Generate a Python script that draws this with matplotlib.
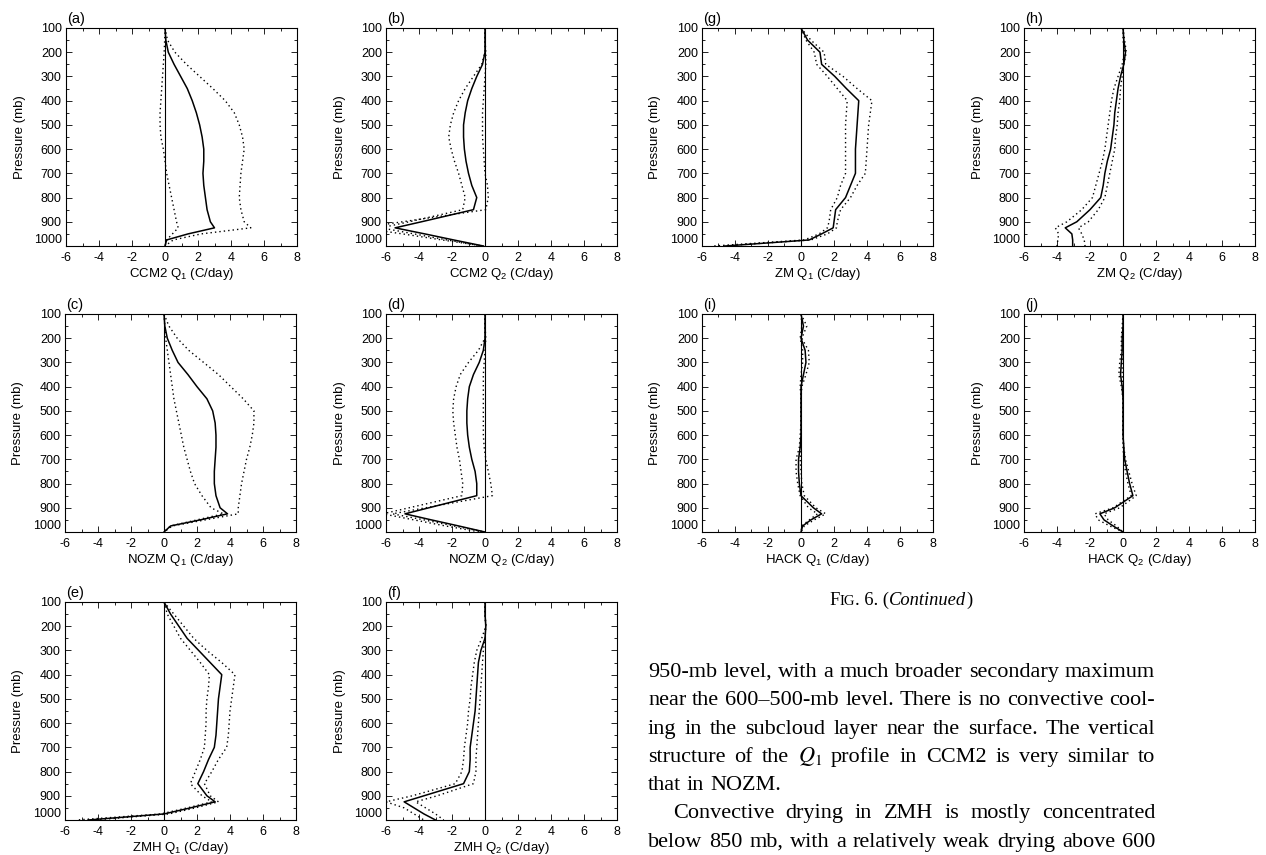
import matplotlib
matplotlib.use('Agg')
import matplotlib.pyplot as plt
from matplotlib.ticker import MultipleLocator

plt.rcParams['font.family'] = ['Liberation Sans', 'DejaVu Sans']
plt.rcParams['mathtext.fontset'] = 'custom'
plt.rcParams['mathtext.rm'] = 'Liberation Sans'
plt.rcParams['mathtext.it'] = 'Liberation Sans:italic'
plt.rcParams['mathtext.bf'] = 'Liberation Sans:bold'
plt.rcParams['axes.unicode_minus'] = False

# pressure levels (mb)
pres = [100, 150, 200, 250, 300, 350, 400, 450, 500, 550, 600, 650, 700,
        750, 800, 850, 900, 925, 950, 975, 1000]

# mean profile (solid) and the two dotted profiles, C/day
ccm2_q1 = [0, 0.05, 0.2, 0.55, 0.95, 1.35, 1.65, 1.9, 2.1, 2.25, 2.35, 2.35, 2.3, 2.35, 2.45, 2.55, 2.75, 3.0, 1.4, 0.1, 0]
ccm2_q1_hi = [0, 0.15, 0.6, 1.3, 2.1, 2.9, 3.65, 4.2, 4.5, 4.7, 4.8, 4.7, 4.6, 4.55, 4.5, 4.6, 4.8, 5.2, 2.2, 0.5, 0]
ccm2_q1_lo = [0, -0.02, -0.05, -0.1, -0.15, -0.2, -0.25, -0.3, -0.3, -0.25, -0.1, 0.0, 0.1, 0.25, 0.4, 0.55, 0.7, 0.8, 0.45, 0.1, 0]

ccm2_q2 = [0, 0, 0, -0.15, -0.5, -0.8, -1.05, -1.2, -1.3, -1.3, -1.25, -1.15, -1.0, -0.8, -0.5, -0.7, -3.85, -5.45, -3.65, -1.9, -0.1]
ccm2_q2_hi = [0, 0, 0.05, 0.05, 0, -0.05, -0.1, -0.15, -0.15, -0.15, -0.1, -0.05, 0, 0.15, 0.2, 0.05, -5.0, -7.5, -5.0, -2.6, -0.1]
ccm2_q2_lo = [0, 0, 0, -0.2, -0.7, -1.2, -1.6, -1.9, -2.1, -2.2, -2.05, -1.85, -1.6, -1.4, -1.2, -1.35, -4.6, -6.3, -4.3, -2.3, -0.2]

nozm_q1 = [0, 0.05, 0.2, 0.5, 0.85, 1.45, 2.0, 2.6, 2.95, 3.1, 3.15, 3.15, 3.1, 3.05, 3.05, 3.15, 3.4, 3.85, 2.2, 0.4, 0]
nozm_q1_hi = [0, 0.3, 0.8, 1.5, 2.4, 3.3, 4.05, 4.8, 5.45, 5.45, 5.35, 5.2, 5.0, 4.85, 4.7, 4.6, 4.5, 4.5, 2.5, 0.5, 0]
nozm_q1_lo = [0, 0.05, 0.1, 0.2, 0.3, 0.4, 0.5, 0.6, 0.75, 0.9, 1.05, 1.2, 1.4, 1.6, 1.85, 2.3, 2.85, 3.6, 2.0, 0.4, 0]

nozm_q2 = [0, 0, 0, -0.1, -0.35, -0.7, -0.95, -1.05, -1.1, -1.1, -1.05, -0.95, -0.8, -0.6, -0.5, -0.5, -3.4, -4.85, -3.25, -1.6, 0]
nozm_q2_hi = [0, 0, 0.05, 0, -0.05, -0.1, -0.1, -0.1, -0.1, -0.1, -0.1, -0.05, 0.05, 0.2, 0.35, 0.45, -3.6, -5.6, -3.7, -1.9, 0]
nozm_q2_lo = [0, 0, 0, -0.4, -1.0, -1.5, -1.75, -1.9, -1.95, -1.9, -1.8, -1.7, -1.55, -1.45, -1.35, -1.4, -4.6, -6.2, -4.3, -2.4, -0.3]

zmh_q1 = [0, 0.4, 0.9, 1.4, 2.1, 2.8, 3.5, 3.4, 3.3, 3.25, 3.2, 3.15, 3.05, 2.7, 2.4, 2.05, 2.6, 3.1, 1.6, 0.0, -4.6]
zmh_q1_hi = [0, 0.6, 1.2, 1.8, 2.6, 3.5, 4.3, 4.2, 4.1, 4.0, 3.95, 3.9, 3.8, 3.3, 2.9, 2.45, 2.8, 3.3, 1.9, 0.3, -4.2]
zmh_q1_lo = [0, 0.2, 0.6, 1.0, 1.6, 2.2, 2.75, 2.7, 2.6, 2.55, 2.55, 2.5, 2.45, 2.2, 1.9, 1.6, 2.3, 2.9, 1.4, -0.2, -5.3]

zmh_q2 = [0, 0, 0.05, 0.0, -0.25, -0.4, -0.45, -0.5, -0.55, -0.6, -0.7, -0.8, -0.9, -0.9, -0.95, -1.3, -3.7, -4.9, -4.3, -3.7, -3.0]
zmh_q2_hi = [0, 0, 0.05, 0.0, -0.1, -0.15, -0.2, -0.25, -0.3, -0.35, -0.4, -0.45, -0.5, -0.55, -0.55, -0.7, -2.9, -4.2, -3.6, -3.0, -2.5]
zmh_q2_lo = [0, 0, 0.05, -0.2, -0.5, -0.65, -0.75, -0.85, -0.9, -1.0, -1.05, -1.15, -1.25, -1.3, -1.4, -1.8, -4.4, -6.0, -4.9, -4.3, -3.7]

zm_q1 = [0, 0.4, 1.15, 1.25, 2.05, 2.75, 3.5, 3.45, 3.4, 3.35, 3.3, 3.3, 3.3, 3.0, 2.7, 2.1, 2.0, 1.95, 1.25, 0.5, -4.6]
zm_q1_hi = [0, 0.6, 1.4, 1.5, 2.55, 3.4, 4.3, 4.2, 4.1, 4.05, 4.0, 3.95, 3.9, 3.4, 3.0, 2.4, 2.2, 2.15, 1.6, 0.6, -4.8]
zm_q1_lo = [0, 0.3, 0.8, 0.95, 1.6, 2.2, 2.8, 2.75, 2.7, 2.7, 2.7, 2.7, 2.7, 2.4, 2.2, 1.8, 1.7, 1.6, 1.1, 0.2, -5.3]

zm_q2 = [0, 0.05, 0.15, 0.05, -0.15, -0.3, -0.4, -0.5, -0.55, -0.65, -0.75, -0.95, -1.1, -1.2, -1.35, -2.0, -2.8, -3.5, -3.1, -3.05, -3.05]
zm_q2_hi = [0, 0.1, 0.2, 0.05, -0.05, -0.15, -0.2, -0.3, -0.35, -0.45, -0.5, -0.65, -0.8, -0.95, -1.1, -1.5, -2.1, -2.7, -2.5, -2.35, -2.3]
zm_q2_lo = [0, 0, 0.1, -0.05, -0.3, -0.55, -0.7, -0.8, -0.9, -1.0, -1.1, -1.25, -1.45, -1.65, -1.85, -2.5, -3.4, -4.1, -3.9, -3.95, -4.0]

hack_q1 = [0, 0.15, 0.0, 0.25, 0.3, 0.15, 0.0, 0, 0, 0, 0, -0.05, -0.15, -0.15, -0.1, 0.0, 0.75, 1.25, 0.6, 0.1, 0]
hack_q1_hi = [0, 0.35, 0.05, 0.45, 0.5, 0.3, 0.05, 0, 0, 0, 0, 0, -0.05, 0, 0.05, 0.2, 0.9, 1.5, 0.8, 0.2, 0]
hack_q1_lo = [0, 0.05, -0.05, 0.1, 0.1, 0.0, -0.05, 0, 0, 0, -0.05, -0.1, -0.3, -0.3, -0.2, -0.05, 0.45, 1.0, 0.5, 0.05, 0]

hack_q2 = [0, 0, -0.05, -0.05, -0.1, -0.15, -0.05, 0, 0, 0, 0, 0.05, 0.1, 0.25, 0.4, 0.6, -0.5, -1.4, -1.15, -0.6, 0]
hack_q2_hi = [0, 0, 0, 0, -0.05, -0.05, 0, 0, 0, 0, 0, 0.05, 0.15, 0.35, 0.55, 0.8, -0.2, -1.15, -0.9, -0.4, 0]
hack_q2_lo = [0, -0.05, -0.1, -0.1, -0.2, -0.25, -0.1, 0, 0, 0, 0, 0, 0.05, 0.15, 0.3, 0.5, -0.6, -1.7, -1.5, -0.8, 0]

W, H = 1266, 855
fig = plt.figure(figsize=(W / 100, H / 100), dpi=100)

# (tag, x label, mean, hi, lo, left px, top px)
panels = [
    ('a', 'CCM2 Q$_1$ (C/day)', ccm2_q1, ccm2_q1_hi, ccm2_q1_lo, 66, 28),
    ('b', 'CCM2 Q$_2$ (C/day)', ccm2_q2, ccm2_q2_hi, ccm2_q2_lo, 386, 28),
    ('c', 'NOZM Q$_1$ (C/day)', nozm_q1, nozm_q1_hi, nozm_q1_lo, 65, 314),
    ('d', 'NOZM Q$_2$ (C/day)', nozm_q2, nozm_q2_hi, nozm_q2_lo, 386, 314),
    ('e', 'ZMH Q$_1$ (C/day)', zmh_q1, zmh_q1_hi, zmh_q1_lo, 65, 602),
    ('f', 'ZMH Q$_2$ (C/day)', zmh_q2, zmh_q2_hi, zmh_q2_lo, 386, 602),
    ('g', 'ZM Q$_1$ (C/day)', zm_q1, zm_q1_hi, zm_q1_lo, 702, 28),
    ('h', 'ZM Q$_2$ (C/day)', zm_q2, zm_q2_hi, zm_q2_lo, 1024, 28),
    ('i', 'HACK Q$_1$ (C/day)', hack_q1, hack_q1_hi, hack_q1_lo, 702, 314),
    ('j', 'HACK Q$_2$ (C/day)', hack_q2, hack_q2_hi, hack_q2_lo, 1024, 314),
]
aw, ah = 231, 218
dots = (0, (1, 2.2))

for tag, xlab, mean, hi, lo, left, top in panels:
    ax = fig.add_axes([left / W, 1 - (top + ah) / H, aw / W, ah / H])
    ax.axvline(0, color='k', lw=0.8)
    ax.plot(hi, pres, color='k', lw=1.0, ls=dots)
    ax.plot(lo, pres, color='k', lw=1.0, ls=dots)
    ax.plot(mean, pres, color='k', lw=1.1)
    ax.set_xlim(-6, 8)
    ax.set_ylim(1000, 100)
    ax.set_xticks(range(-6, 9, 2))
    ax.set_yticks(range(100, 1001, 100))
    ax.xaxis.set_minor_locator(MultipleLocator(1))
    ax.yaxis.set_minor_locator(MultipleLocator(50))
    ax.tick_params(which='both', direction='in', top=True, right=True,
                   labelsize=9, width=0.6)
    ax.tick_params(which='major', length=4)
    ax.tick_params(which='minor', length=2)
    ax.tick_params(axis='x', pad=4)
    ax.tick_params(axis='y', pad=3)
    ax.get_yticklabels()[-1].set_va('bottom')
    for s in ax.spines.values():
        s.set_linewidth(0.8)
    ax.set_xlabel(xlab, fontsize=9.5, labelpad=2)
    ax.set_ylabel('Pressure (mb)', fontsize=9.5, labelpad=6)
    ax.text(0.005, 1.01, '(%s)' % tag, transform=ax.transAxes, fontsize=10.5,
            ha='left', va='bottom')

# caption and running text of the page
renderer = fig.canvas.get_renderer()
serif = dict(family=['Liberation Serif', 'DejaVu Serif'], math_fontfamily='stix')


def text_width(s, **kw):
    t = fig.text(0, 0, s, **kw)
    w = t.get_window_extent(renderer).width
    t.remove()
    return w


def put_runs(runs, xc, y):
    widths = [text_width(s, **kw) for s, kw in runs]
    x = xc - sum(widths) / 2
    for (s, kw), w in zip(runs, widths):
        fig.text(x / W, 1 - y / H, s, ha='left', va='baseline', **kw)
        x += w


put_runs([('F', dict(fontsize=13.3, **serif)),
          ('IG', dict(fontsize=10.5, **serif)),
          ('. 6. (', dict(fontsize=13.3, **serif)),
          ('Continued', dict(fontsize=13.3, style='italic', **serif)),
          (')', dict(fontsize=13.3, **serif))], 901, 605)

body = [
    ('950-mb level, with a much broader secondary maximum', 0, True),
    ('near the 600\u2013500-mb level. There is no convective cool-', 0, True),
    ('ing in the subcloud layer near the surface. The vertical', 0, True),
    ('structure of the $Q_1$ profile in CCM2 is very similar to', 0, True),
    ('that in NOZM.', 0, False),
    ('Convective drying in ZMH is mostly concentrated', 25, True),
    ('below 850 mb, with a relatively weak drying above 600', 0, True),
]
x0, x1 = 648, 1155
y = 677
for line, indent, justify in body:
    words = line.split(' ')
    kw = dict(fontsize=16, **serif)
    widths = [text_width(w, **kw) for w in words]
    if justify:
        gap = (x1 - x0 - indent - sum(widths)) / (len(words) - 1)
    else:
        gap = text_width('a a', **kw) - text_width('aa', **kw)
    x = x0 + indent
    for w, wd in zip(words, widths):
        fig.text(x / W, 1 - y / H, w, ha='left', va='baseline', **kw)
        x += wd + gap
    y += 28.3

fig.savefig('out.png', dpi=100)
